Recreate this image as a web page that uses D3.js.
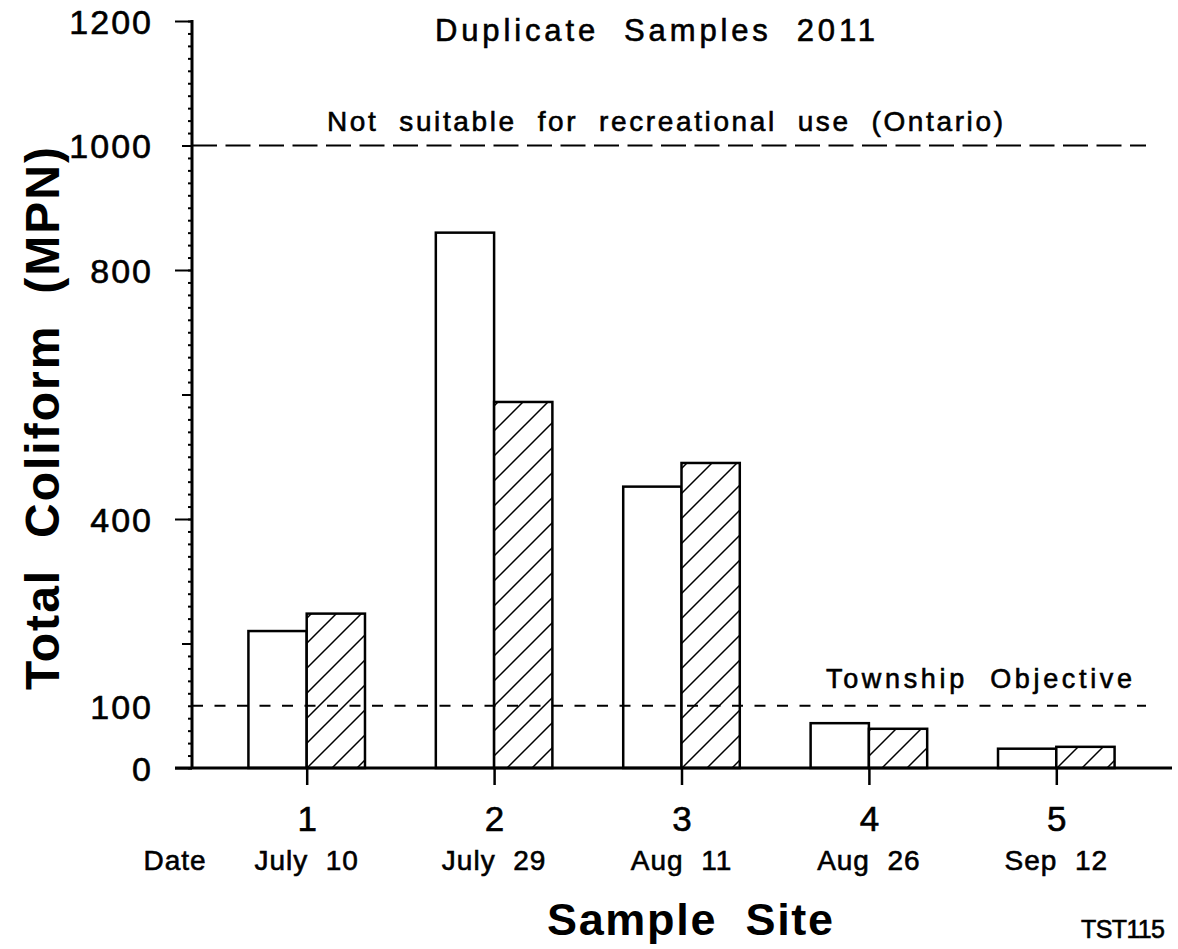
<!DOCTYPE html>
<html>
<head>
<meta charset="utf-8">
<script src="https://cdn.jsdelivr.net/npm/d3@7"></script>
<style>
  html, body { margin: 0; padding: 0; background: #fff; }
  svg { display: block; }
  text { font-family: "Liberation Sans", Arial, Helvetica, sans-serif; fill: #000; white-space: pre; }
  text.thick { stroke: #000; stroke-width: 0.6px; }
</style>
</head>
<body>
<svg id="chart" width="1178" height="949"></svg>
<script>
// ---- data ----
const sites = ["1", "2", "3", "4", "5"];
const dates = ["July  10", "July  29", "Aug  11", "Aug  26", "Sep  12"];
const sampleA = [220, 860, 452, 72, 31];   // first sample (open bars)
const sampleB = [248, 588, 490, 63, 34];   // duplicate (hatched bars)
const yTickLabels = [0, 100, 400, 800, 1000, 1200];
const yMajorTicks = [0, 400, 800, 1200];
const yMediumTicks = [200, 600, 1000];
const refLines = [
  { value: 1000, label: "Not  suitable  for  recreational  use  (Ontario)" },
  { value: 100,  label: "Township  Objective" }
];
const title = "Duplicate  Samples  2011";
const yTitle = "Total  Coliform  (MPN)";
const xTitle = "Sample  Site";
const code = "TST115";

// ---- layout ----
const svg = d3.select("#chart");
const axisX = 192, baseY = 768, topY = 21;
const y = d3.scaleLinear().domain([0, 1200]).range([baseY, topY]);
const x = d3.scalePoint().domain(sites).range([306.7, 1056.3]);
const barW = x.step() * 0.311;

// hatch pattern
const defs = svg.append("defs");
const pat = defs.append("pattern").attr("id", "hatch")
  .attr("patternUnits", "userSpaceOnUse").attr("width", 25).attr("height", 25);
pat.append("rect").attr("width", 25).attr("height", 25).attr("fill", "#fff");
pat.append("path").attr("d", "M-5,5 L5,-5 M0,25 L25,0 M20,30 L30,20")
  .attr("stroke", "#000").attr("stroke-width", 1.5);

// bars
const g = svg.append("g");
g.selectAll("rect.a").data(sampleA).join("rect").attr("class", "a")
  .attr("x", (d, i) => x(sites[i]) - barW).attr("width", barW)
  .attr("y", d => y(d)).attr("height", d => baseY - y(d))
  .attr("fill", "#fff").attr("stroke", "#000").attr("stroke-width", 2.5);
g.selectAll("rect.b").data(sampleB).join("rect").attr("class", "b")
  .attr("x", (d, i) => x(sites[i])).attr("width", barW)
  .attr("y", d => y(d)).attr("height", d => baseY - y(d))
  .attr("fill", "url(#hatch)").attr("stroke", "#000").attr("stroke-width", 2.5);

// reference lines (drawn over bars)
const refStyles = [{ dash: "25,8.5", w: 2 }, { dash: "11,11.5", w: 2 }];
refLines.forEach((r, i) => {
  svg.append("line")
    .attr("x1", axisX).attr("x2", 1146)
    .attr("y1", y(r.value)).attr("y2", y(r.value))
    .attr("stroke", "#000").attr("stroke-width", refStyles[i].w)
    .attr("stroke-dasharray", refStyles[i].dash);
});
svg.append("text").attr("class", "thick").attr("x", 327).attr("y", 131)
  .attr("font-size", 28).attr("textLength", 676).attr("lengthAdjust", "spacing")
  .text(refLines[0].label);
svg.append("text").attr("class", "thick").attr("x", 826).attr("y", 688)
  .attr("font-size", 27).attr("textLength", 306).attr("lengthAdjust", "spacing")
  .text(refLines[1].label);

// y axis: minor, medium, major ticks
const minorVals = d3.range(0, 1201, 20);
const yMinor = svg.append("g").attr("transform", `translate(${axisX},0)`)
  .call(d3.axisLeft(y).tickValues(minorVals).tickSize(4).tickFormat(""));
const yMed = svg.append("g").attr("transform", `translate(${axisX},0)`)
  .call(d3.axisLeft(y).tickValues(yMediumTicks).tickSize(10).tickFormat(""));
const yMaj = svg.append("g").attr("transform", `translate(${axisX},0)`)
  .call(d3.axisLeft(y).tickValues(yMajorTicks).tickSize(17).tickFormat(""));
const yLab = svg.append("g").attr("transform", `translate(${axisX},0)`)
  .call(d3.axisLeft(y).tickValues(yTickLabels).tickSize(0).tickPadding(39).tickFormat(d3.format("d")));
[yMinor, yMed, yMaj, yLab].forEach(a => {
  a.select(".domain").remove();
  a.selectAll("line").attr("stroke", "#000").attr("stroke-width", 2);
});
yLab.selectAll("text").attr("class", "thick").attr("font-size", 34).attr("letter-spacing", 2)
  .attr("font-family", "Liberation Sans, Arial, sans-serif").attr("dy", "0.36em");
svg.append("line").attr("x1", axisX).attr("x2", axisX).attr("y1", topY - 1).attr("y2", baseY + 1)
  .attr("stroke", "#000").attr("stroke-width", 3);

// x axis
svg.append("line").attr("x1", 175).attr("x2", 1172).attr("y1", baseY).attr("y2", baseY)
  .attr("stroke", "#000").attr("stroke-width", 3);
const xAx = svg.append("g").attr("transform", `translate(0,${baseY})`)
  .call(d3.axisBottom(x).tickSize(17).tickPadding(21));
xAx.select(".domain").remove();
xAx.selectAll("line").attr("stroke", "#000").attr("stroke-width", 2.5);
xAx.selectAll("text").attr("class", "thick").attr("font-size", 35)
  .attr("font-family", "Liberation Sans, Arial, sans-serif");
// dates
svg.append("g").selectAll("text").data(dates).join("text")
  .attr("class", "thick")
  .attr("x", (d, i) => x(sites[i])).attr("y", 870)
  .attr("text-anchor", "middle").attr("font-size", 28).attr("letter-spacing", 1)
  .text(d => d);
svg.append("text").attr("class", "thick").attr("x", 175).attr("y", 870).attr("text-anchor", "middle")
  .attr("font-size", 28).attr("letter-spacing", 1).text("Date");

// titles
svg.append("text").attr("class", "thick").attr("x", 435).attr("y", 41)
  .attr("font-size", 31).attr("textLength", 440).attr("lengthAdjust", "spacing").text(title);
svg.append("text").attr("x", 547).attr("y", 935)
  .attr("font-size", 45).attr("font-weight", "bold")
  .attr("textLength", 286).attr("lengthAdjust", "spacing").text(xTitle);
svg.append("text").attr("transform", "translate(59,690) rotate(-90)")
  .attr("font-size", 48).attr("font-weight", "bold")
  .attr("textLength", 543).attr("lengthAdjust", "spacing").text(yTitle);
svg.append("text").attr("class", "thick").attr("x", 1081).attr("y", 938)
  .attr("font-size", 25)
  .attr("textLength", 84).attr("lengthAdjust", "spacing").text(code);
</script>
</body>
</html>
